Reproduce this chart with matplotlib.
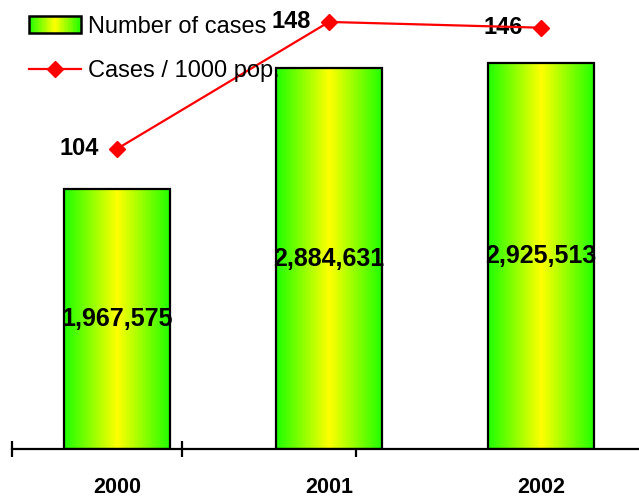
import numpy as np
import matplotlib
matplotlib.use("Agg")
from matplotlib import pyplot as plt
from matplotlib.colors import LinearSegmentedColormap
from matplotlib.patches import Rectangle
from matplotlib.lines import Line2D
from matplotlib.legend_handler import HandlerBase

plt.rcParams['font.family'] = ['Liberation Sans', 'DejaVu Sans']

# data
years = ['2000', '2001', '2002']
cases = [1967575, 2884631, 2925513]
rate = [104, 148, 146]

# green -> yellow -> green fill across each bar
grad = LinearSegmentedColormap.from_list('gy', ['#1eff00', '#ffff00', '#1eff00'])


class GradientHandler(HandlerBase):
    def create_artists(self, legend, orig_handle, xdescent, ydescent,
                       width, height, fontsize, trans):
        n = 40
        arts = []
        for i in range(n):
            arts.append(Rectangle((-xdescent + i * width / n, -ydescent), width / n, height,
                                  facecolor=grad((i + 0.5) / n), edgecolor='none',
                                  transform=trans))
        arts.append(Rectangle((-xdescent, -ydescent), width, height, facecolor='none',
                              edgecolor='black', lw=1.8, transform=trans))
        return arts


fig = plt.figure(figsize=(6.39, 4.98), dpi=100)
ax = fig.add_axes([12 / 639, 1 - 449 / 498, 627 / 639, 449 / 498])

x = np.arange(len(years))
bw = 0.5
ymax = 3.40e6
xl = (-0.495, 2.462)

g = np.linspace(0, 1, 200).reshape(1, -1)
for xi, v in zip(x, cases):
    ax.imshow(g, cmap=grad, aspect='auto', extent=[xi - bw / 2, xi + bw / 2, 0, v],
              interpolation='bicubic', zorder=2)
bars = ax.bar(x, cases, width=bw, facecolor='none', edgecolor='black', lw=1.6, zorder=3)

for xi, v in zip(x, cases):
    ax.text(xi, v / 2, f'{v:,}', ha='center', va='center', fontsize=18,
            fontweight='bold', zorder=5)

ax.set_xlim(*xl)
ax.set_ylim(0, ymax)
for s in ['left', 'right', 'top']:
    ax.spines[s].set_visible(False)
ax.spines['bottom'].set_linewidth(1.6)
ax.set_yticks([])
ax.set_xticks(x, years, fontsize=15.5, fontweight='bold')
ax.tick_params(axis='x', which='major', length=0, pad=20)
ax.set_xticks([-0.495, 0.305, 1.125], minor=True)
ax.tick_params(axis='x', which='minor', direction='inout', length=12, width=1.6)

# rate per 1000 on its own scale
ax2 = ax.twinx()
ax2.plot(x, rate, color='#ff0000', lw=1.6, marker='D', markersize=8, zorder=4)
for xi, r in zip(x, rate):
    ax2.annotate(str(r), (xi, r), xytext=(-13, 0), textcoords='offset points',
                 ha='right', va='center', fontsize=17, fontweight='bold')
ax2.set_xlim(*xl)
ax2.set_ylim(0, 155.6)
ax2.axis('off')

handles = [Rectangle((0, 0), 1, 1),
           Line2D([], [], color='#ff0000', lw=1.6, marker='D', markersize=8)]
fig.legend(handles, ['Number of cases', 'Cases / 1000 pop.'],
           handler_map={Rectangle: GradientHandler()},
           loc='upper left', bbox_to_anchor=(29 / 639, 1 - 16 / 498),
           frameon=False, borderpad=0, borderaxespad=0, fontsize=17,
           handlelength=2.2, handletextpad=0.3, labelspacing=0.95)

fig.savefig('out.png', dpi=100)
